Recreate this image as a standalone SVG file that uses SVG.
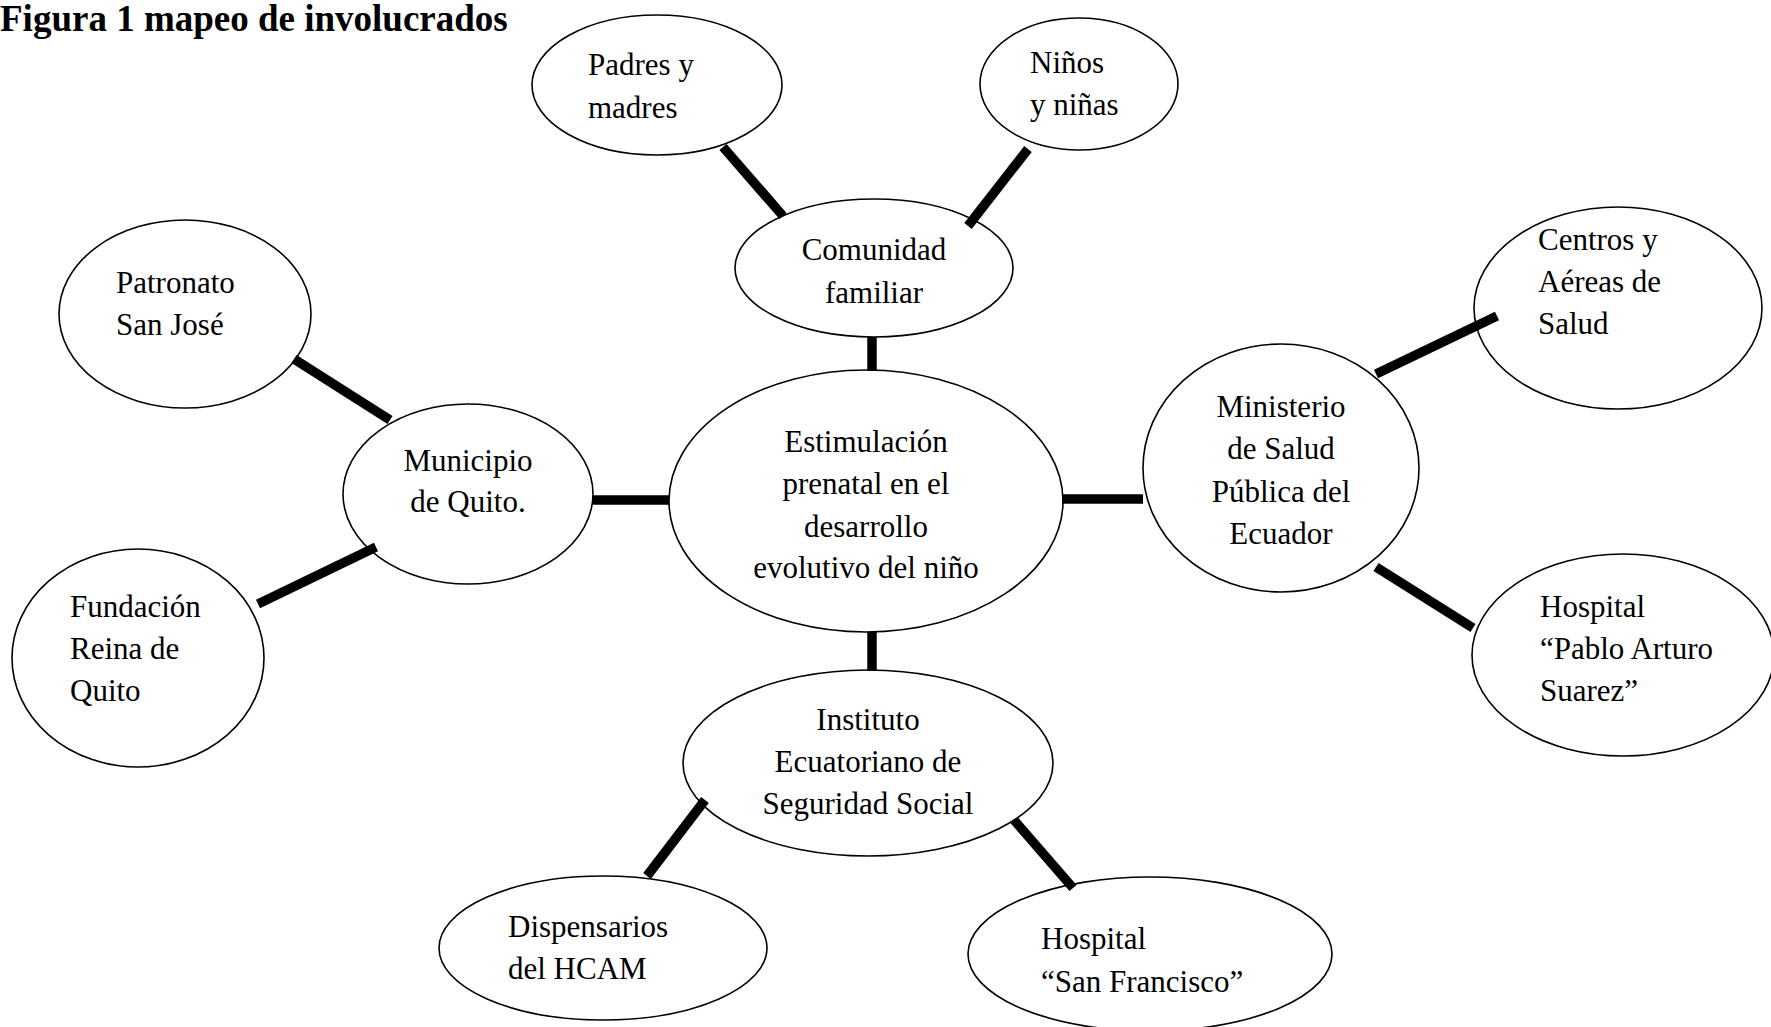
<svg xmlns="http://www.w3.org/2000/svg" width="1771" height="1027" viewBox="0 0 1771 1027">
<style>
.n{fill:#fff;stroke:#000;stroke-width:1.6}
.t{font-family:"Liberation Serif","Times New Roman",serif;font-size:31px;fill:#000}
.c{text-anchor:middle}
.e{stroke:#000;stroke-width:9.5;stroke-linecap:butt;fill:none}
.title{font-family:"Liberation Serif","Times New Roman",serif;font-size:37px;font-weight:bold;fill:#000}
</style>
<rect width="1771" height="1027" fill="#fff"/>
<text class="title" x="0" y="31">Figura 1 mapeo de involucrados</text>
<g id="padres">
<ellipse class="n" cx="657" cy="85" rx="125" ry="70"/>
<text class="t" x="588" y="75">Padres y</text>
<text class="t" x="588" y="118">madres</text>
</g>
<g id="ninos">
<ellipse class="n" cx="1079" cy="84" rx="99" ry="66"/>
<text class="t" x="1030" y="73">Niños</text>
<text class="t" x="1030" y="115">y niñas</text>
</g>
<g id="comunidad">
<ellipse class="n" cx="874" cy="268" rx="139" ry="69"/>
<text class="t c" x="874" y="260">Comunidad</text>
<text class="t c" x="874" y="303">familiar</text>
</g>
<g id="patronato">
<ellipse class="n" cx="185" cy="314" rx="126" ry="94"/>
<text class="t" x="116" y="293">Patronato</text>
<text class="t" x="116" y="335">San José</text>
</g>
<g id="municipio">
<ellipse class="n" cx="468" cy="494" rx="125" ry="90"/>
<text class="t c" x="468" y="471">Municipio</text>
<text class="t c" x="468" y="512">de Quito.</text>
</g>
<g id="central">
<ellipse class="n" cx="866" cy="501" rx="197" ry="131"/>
<text class="t c" x="866" y="452">Estimulación</text>
<text class="t c" x="866" y="494">prenatal en el</text>
<text class="t c" x="866" y="537">desarrollo</text>
<text class="t c" x="866" y="578">evolutivo del niño</text>
</g>
<g id="ministerio">
<ellipse class="n" cx="1281" cy="468" rx="138" ry="124"/>
<text class="t c" x="1281" y="417">Ministerio</text>
<text class="t c" x="1281" y="459">de Salud</text>
<text class="t c" x="1281" y="502">Pública del</text>
<text class="t c" x="1281" y="544">Ecuador</text>
</g>
<g id="centros">
<ellipse class="n" cx="1618" cy="308" rx="144" ry="101"/>
<text class="t" x="1538" y="250">Centros y</text>
<text class="t" x="1538" y="292">Aéreas de</text>
<text class="t" x="1538" y="334">Salud</text>
</g>
<g id="fundacion">
<ellipse class="n" cx="138" cy="658" rx="126" ry="109"/>
<text class="t" x="70" y="617">Fundación</text>
<text class="t" x="70" y="659">Reina de</text>
<text class="t" x="70" y="701">Quito</text>
</g>
<g id="hospital-pas">
<ellipse class="n" cx="1623" cy="655" rx="151" ry="101"/>
<text class="t" x="1540" y="617">Hospital</text>
<text class="t" x="1540" y="659">“Pablo Arturo</text>
<text class="t" x="1540" y="701">Suarez”</text>
</g>
<g id="iess">
<ellipse class="n" cx="868" cy="763" rx="185" ry="93"/>
<text class="t c" x="868" y="730">Instituto</text>
<text class="t c" x="868" y="772">Ecuatoriano de</text>
<text class="t c" x="868" y="814">Seguridad Social</text>
</g>
<g id="dispensarios">
<ellipse class="n" cx="603" cy="948" rx="164" ry="72"/>
<text class="t" x="508" y="937">Dispensarios</text>
<text class="t" x="508" y="979">del HCAM</text>
</g>
<g id="hospital-sf">
<ellipse class="n" cx="1150" cy="954" rx="182" ry="77"/>
<text class="t" x="1041" y="949">Hospital</text>
<text class="t" x="1041" y="992">“San Francisco”</text>
</g>
<g id="connectors">
<line class="e" x1="723" y1="147" x2="783" y2="216"/>
<line class="e" x1="1028" y1="149" x2="968" y2="226"/>
<line class="e" x1="872" y1="337" x2="872" y2="371"/>
<line class="e" x1="294" y1="359" x2="390" y2="420"/>
<line class="e" x1="258" y1="604" x2="376" y2="547"/>
<line class="e" x1="593" y1="500" x2="669" y2="500"/>
<line class="e" x1="1062" y1="499" x2="1143" y2="499"/>
<line class="e" x1="1376" y1="374" x2="1497" y2="316"/>
<line class="e" x1="1376" y1="567" x2="1473" y2="628"/>
<line class="e" x1="872" y1="632" x2="872" y2="671"/>
<line class="e" x1="705" y1="800" x2="647" y2="876"/>
<line class="e" x1="1014" y1="820" x2="1073" y2="888"/>
</g>
</svg>
